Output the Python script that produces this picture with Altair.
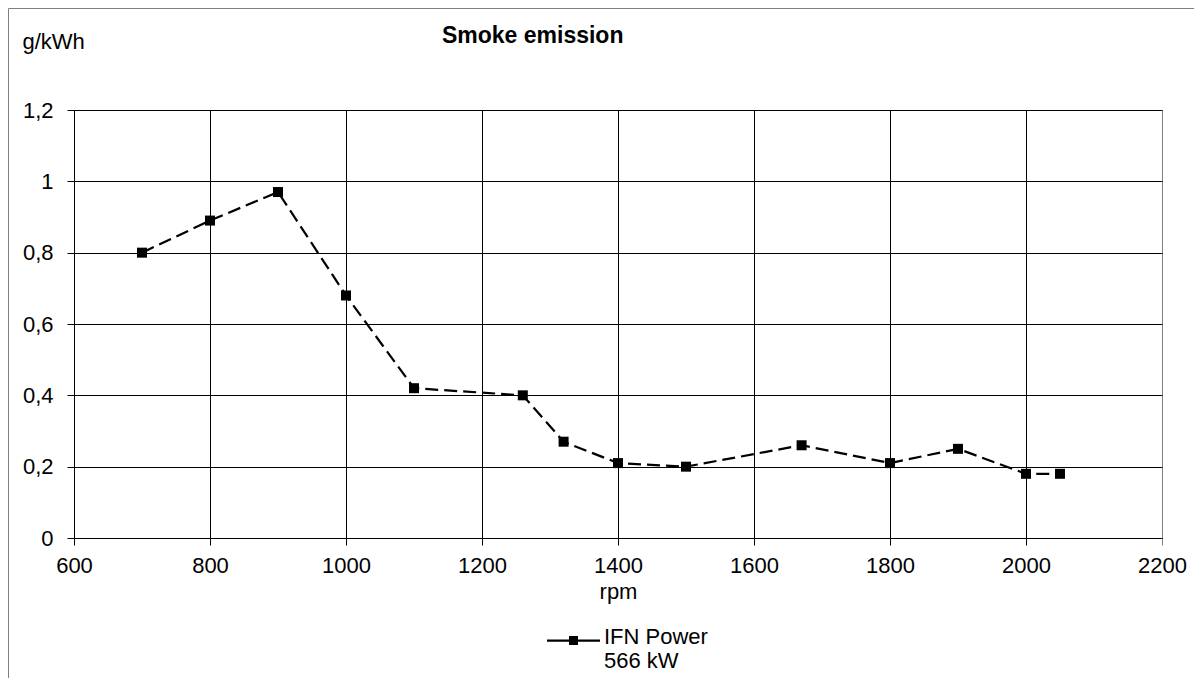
import altair as alt
import pandas as pd

# ---- data ----
rpm = [700, 800, 900, 1000, 1100, 1260, 1320, 1400, 1500, 1670, 1800, 1900, 2000, 2050]
smoke = [0.80, 0.89, 0.97, 0.68, 0.42, 0.40, 0.27, 0.21, 0.20, 0.26, 0.21, 0.25, 0.18, 0.18]
series_name = "IFN Power|566 kW"
x_ticks = [600, 800, 1000, 1200, 1400, 1600, 1800, 2000, 2200]
y_ticks = [0, 0.2, 0.4, 0.6, 0.8, 1.0, 1.2]
chart_title = "Smoke emission"
x_title = "rpm"
y_title = "g/kWh"

df = pd.DataFrame({"rpm": rpm, "smoke": smoke, "series": [series_name] * len(rpm)})
one = pd.DataFrame({"t": [chart_title]})

FONT = "Liberation Sans"
W, H = 1088, 428
PAD = {"left": 66, "top": 102, "right": 1186 - 66 - W, "bottom": 670 - 102 - H}

x_enc = alt.X(
    "rpm:Q",
    scale=alt.Scale(domain=[600, 2200], nice=False, zero=False),
    axis=alt.Axis(
        values=x_ticks, format="d", title=x_title,
        tickSize=7, labelPadding=10, titlePadding=5, labelFlush=False,
        gridColor={"condition": {"test": "datum.value == 2200", "value": "#808080"}, "value": "black"},
        tickColor={"condition": {"test": "datum.value == 2200", "value": "#808080"}, "value": "black"},
    ),
)
y_enc = alt.Y(
    "smoke:Q",
    scale=alt.Scale(domain=[0, 1.2], nice=False),
    axis=alt.Axis(
        values=y_ticks, format="~g", labelExpr="replace(datum.label, '.', ',')",
        title=y_title, titleAngle=0, titleX=-52, titleY=-62,
        titleAlign="left", titleBaseline="alphabetic",
        tickSize=7, labelPadding=14, labelFlush=False,
    ),
)

line = alt.Chart(df).mark_line(color="black", strokeWidth=2.2, strokeDash=[13, 6]).encode(x=x_enc, y=y_enc)

# legend symbol: a short solid line with a square marker, drawn slightly above the label centre
legend_symbol = "M-1,-0.15H1V-0.07H-1ZM-0.17,-0.28H0.17V0.06H-0.17Z"
points = alt.Chart(df).mark_point(shape="square", filled=True, size=100, opacity=1).encode(
    x=x_enc,
    y=y_enc,
    color=alt.Color(
        "series:N",
        scale=alt.Scale(range=["black"]),
        legend=alt.Legend(
            title=None, orient="none", legendX=473, legendY=507,
            symbolType=legend_symbol, symbolSize=2809,
            symbolFillColor="black", symbolStrokeWidth=0, symbolOpacity=1,
            labelExpr="split(datum.label, '|')",
            labelFont=FONT, labelFontSize=22, labelColor="black",
            labelOffset=4, labelBaseline="alphabetic", labelLimit=400, padding=0,
        ),
    ),
)

title_text = alt.Chart(one).mark_text(
    font=FONT, fontSize=23, fontWeight="bold", align="center", baseline="alphabetic", color="black"
).encode(text="t:N", x=alt.value(458.7), y=alt.value(-66.7))

border_left = alt.Chart(one).mark_rule(color="#808080", strokeWidth=1).encode(
    x=alt.value(-65.5), y=alt.value(-101.5), y2=alt.value(568)
)
border_top = alt.Chart(one).mark_rule(color="#808080", strokeWidth=1).encode(
    x=alt.value(-65.5), x2=alt.value(1120), y=alt.value(-101.5)
)

chart = (
    alt.layer(line, points, title_text, border_left, border_top)
    .properties(width=W, height=H, padding=PAD, autosize=alt.AutoSizeParams(type="none"), background="white")
    .configure_view(stroke="#808080", strokeWidth=1)
    .configure_axis(
        labelFont=FONT, labelFontSize=22, labelColor="black",
        titleFont=FONT, titleFontSize=22, titleColor="black", titleFontWeight="normal",
        domainColor="black", domainWidth=1, gridColor="black", gridWidth=1, gridOpacity=1,
        tickColor="black", tickWidth=1, grid=True,
    )
)

chart.save("out.html", embed_options={"renderer": "svg", "actions": False})
